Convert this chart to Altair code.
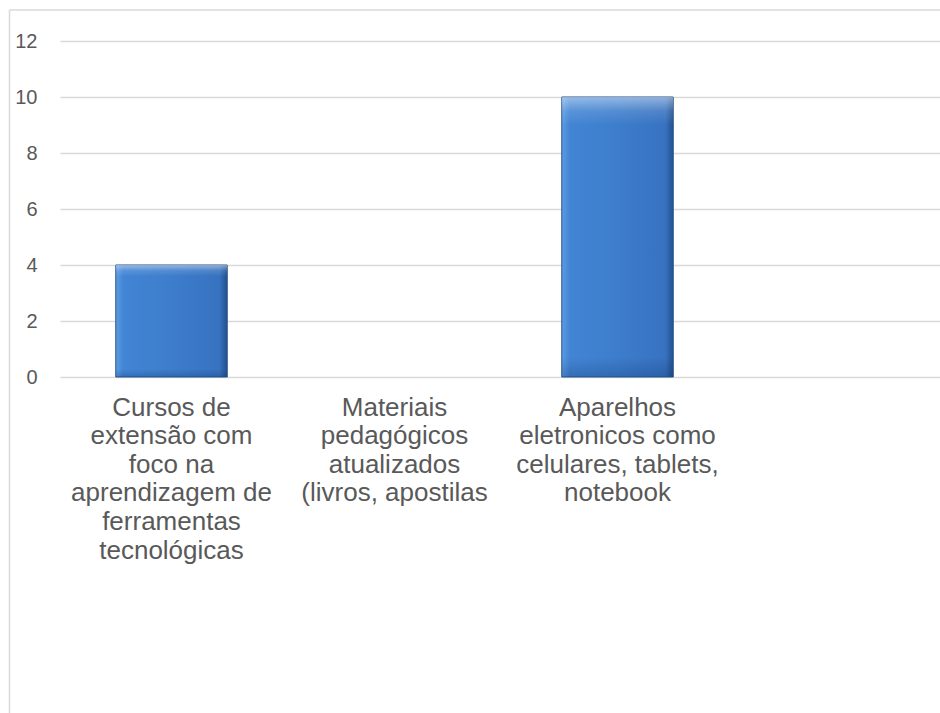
import altair as alt
import pandas as pd

categories = [
    "Cursos de\nextensão com\nfoco na\naprendizagem de\nferramentas\ntecnológicas",
    "Materiais\npedagógicos\natualizados\n(livros, apostilas",
    "Aparelhos\neletronicos como\ncelulares, tablets,\nnotebook",
]
values = [4, 0, 10]
domain = categories + [" "]
y_ticks = [0, 2, 4, 6, 8, 10, 12]

df = pd.DataFrame({"cat": categories, "val": values})

xscale = alt.Scale(domain=domain, range=[0, 892], paddingInner=0.5, paddingOuter=0.25)
yscale = alt.Scale(domain=[0, 12], nice=False)

x_enc = alt.X(
    "cat:N",
    sort=domain,
    scale=xscale,
    axis=alt.Axis(
        title=None, labelAngle=0, domain=False, ticks=False,
        labelExpr="split(datum.label, '\\n')",
        labelFont="Liberation Sans", labelFontSize=26, labelColor="#595959",
        labelLineHeight=28.6, labelPadding=17, labelLimit=400,
        labelBaseline="top", labelAlign="center", labelOverlap=False,
    ),
)
y_enc = alt.Y(
    "val:Q",
    scale=yscale,
    axis=alt.Axis(
        title=None, values=y_ticks, domain=False, ticks=False, grid=True,
        gridColor="#d9d9d9", gridWidth=1.3,
        labelFont="Liberation Sans", labelFontSize=20, labelColor="#595959",
        labelPadding=23,
    ),
)

base = alt.Chart(df)

bar_main = base.mark_bar(
    stroke="#2a568f", strokeWidth=1,
    color=alt.Gradient(
        gradient="linear", x1=0, x2=1, y1=0, y2=0,
        stops=[
            alt.GradientStop(color="#5e9ce2", offset=0),
            alt.GradientStop(color="#4285d4", offset=0.07),
            alt.GradientStop(color="#3d7dcc", offset=0.5),
            alt.GradientStop(color="#3772c0", offset=0.93),
            alt.GradientStop(color="#22508c", offset=1),
        ],
    ),
).encode(
    x=x_enc, y=y_enc,
    strokeOpacity=alt.condition("datum.val > 0", alt.value(1), alt.value(0)),
)

bar_shade = base.mark_bar(
    color=alt.Gradient(
        gradient="linear", x1=0, x2=0, y1=0, y2=1,
        stops=[
            alt.GradientStop(color="rgba(255,255,255,0.45)", offset=0),
            alt.GradientStop(color="rgba(255,255,255,0.12)", offset=0.05),
            alt.GradientStop(color="rgba(255,255,255,0)", offset=0.1),
            alt.GradientStop(color="rgba(0,30,80,0)", offset=0.93),
            alt.GradientStop(color="rgba(0,30,80,0.22)", offset=1),
        ],
    ),
).encode(x=alt.X("cat:N", sort=domain, scale=xscale),
         y=alt.Y("val:Q", scale=yscale))

border_left = alt.Chart(pd.DataFrame({"a": [0]})).mark_rule(color="#d9d9d9", strokeWidth=1.5).encode(
    x=alt.value(-50.5), y=alt.value(-31), y2=alt.value(680)
)
border_top = alt.Chart(pd.DataFrame({"a": [0]})).mark_rule(color="#d9d9d9", strokeWidth=1.5).encode(
    x=alt.value(-50.5), x2=alt.value(890), y=alt.value(-31)
)

chart = alt.layer(bar_main, bar_shade, border_left, border_top).properties(
    width=880, height=336,
    autosize=alt.AutoSizeParams(type="none"),
    padding={"left": 60, "top": 41, "right": 0, "bottom": 336},
    background="white",
).configure_view(stroke=None)

chart.save("out.html", embed_options={"renderer": "svg", "actions": False})
